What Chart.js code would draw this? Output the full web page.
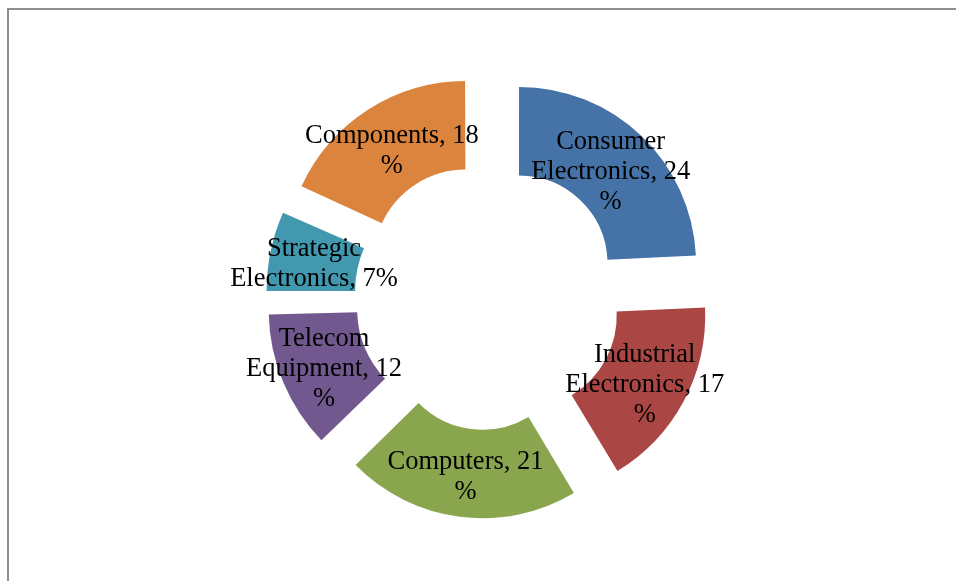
<!DOCTYPE html>
<html>
<head>
<meta charset="utf-8">
<script src="https://cdn.jsdelivr.net/npm/chart.js@4"></script>
<style>
  html, body { margin: 0; padding: 0; background: #fff; }
  #wrap { position: relative; width: 956px; height: 581px; }
  #frame {
    position: absolute; left: 7px; top: 8px; right: 0; bottom: 0;
    border-left: 2px solid #8e8e8e; border-top: 2px solid #8e8e8e;
  }
  canvas { position: absolute; left: 0; top: 0; }
</style>
</head>
<body>
<div id="wrap">
  <div id="frame"></div>
  <canvas id="chart" width="956" height="581"></canvas>
</div>
<script>
// sector names, split where the label wraps
const sectors = [
  ["Consumer", "Electronics"],
  ["Industrial", "Electronics"],
  ["Computers"],
  ["Telecom", "Equipment"],
  ["Strategic", "Electronics"],
  ["Components"]
];
const shares = [24, 17, 21, 12, 7, 18];
const percentOwnLine = [true, true, true, true, false, true];
const colors = ["#4572A7", "#AA4643", "#89A54E", "#71588F", "#4198AF", "#DB843D"];

const explode = 45; // px each slice is pulled out from the centre
const fontSize = 26.5;
const lineHeight = 30;

// ArcElement moves a slice by offset/4 * (2 - sin(circumference)),
// so pick a per-slice offset that gives the same pull for every slice
const total = shares.reduce((a, b) => a + b, 0);
const offsets = shares.map(v => {
  const c = v / total * Math.PI * 2;
  return 4 * explode / (2 - Math.sin(Math.min(Math.PI, c)));
});

const labelLines = sectors.map((words, i) => {
  const lines = words.slice();
  const last = lines.length - 1;
  if (percentOwnLine[i]) {
    lines[last] += ", " + shares[i];
    lines.push("%");
  } else {
    lines[last] += ", " + shares[i] + "%";
  }
  return lines;
});

const sliceLabels = {
  id: "sliceLabels",
  afterDatasetsDraw(chart) {
    const ctx = chart.ctx;
    const arcs = chart.getDatasetMeta(0).data;
    ctx.save();
    ctx.font = fontSize + "px 'Liberation Serif', 'Times New Roman', serif";
    ctx.fillStyle = "#000";
    ctx.textAlign = "center";
    ctx.textBaseline = "alphabetic";
    arcs.forEach((arc, i) => {
      const p = arc.getProps(["x", "y", "startAngle", "endAngle", "innerRadius", "outerRadius"], true);
      const mid = (p.startAngle + p.endAngle) / 2;
      const r = (p.innerRadius + p.outerRadius) / 2 + explode;
      const cx = p.x + Math.cos(mid) * r;
      const cy = p.y + Math.sin(mid) * r;
      const lines = labelLines[i];
      const top = cy - (lines.length - 1) * lineHeight / 2 + fontSize * 0.42;
      lines.forEach((t, k) => ctx.fillText(t, cx, top + k * lineHeight));
    });
    ctx.restore();
  }
};

new Chart(document.getElementById("chart"), {
  type: "doughnut",
  data: {
    labels: sectors.map(w => w.join(" ")),
    datasets: [{
      data: shares,
      backgroundColor: colors,
      borderWidth: 0,
      offset: offsets,
      hoverOffset: 0
    }]
  },
  options: {
    responsive: false,
    animation: false,
    radius: 177,
    cutout: "50%",
    layout: { padding: { left: 20, top: 12 } },
    plugins: {
      legend: { display: false },
      tooltip: { enabled: false }
    }
  },
  plugins: [sliceLabels]
});
</script>
</body>
</html>
